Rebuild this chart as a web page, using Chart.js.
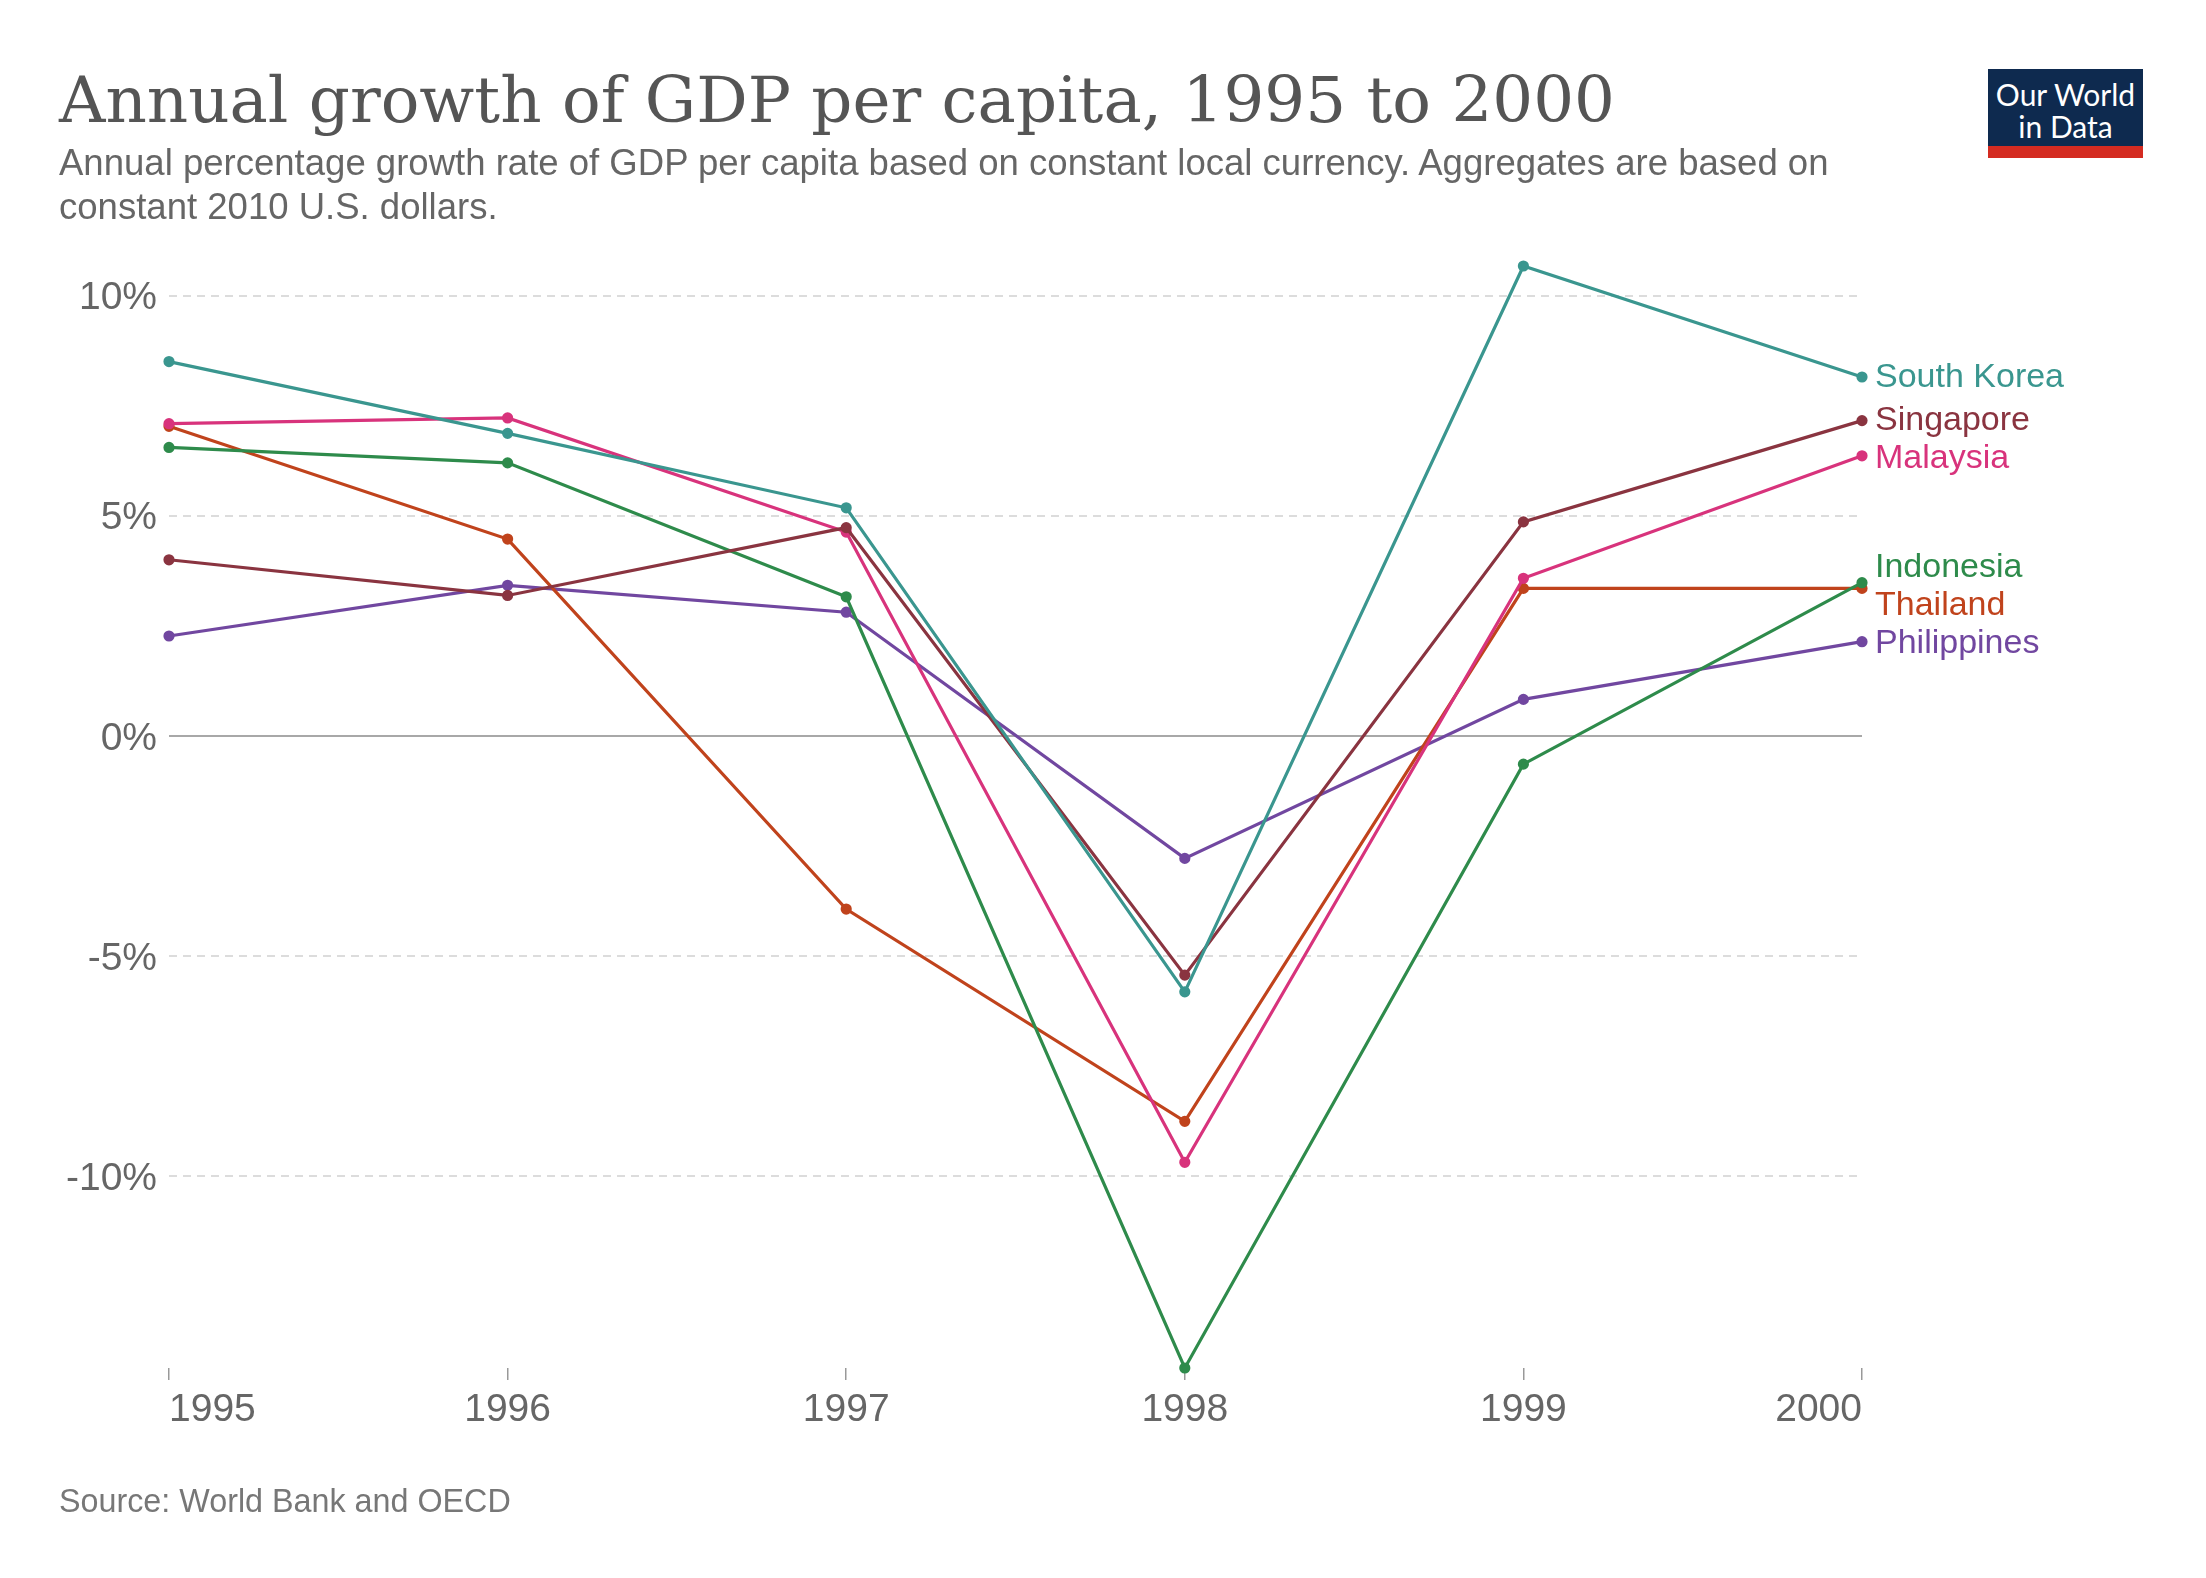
<!DOCTYPE html>
<html>
<head>
<meta charset="utf-8">
<script src="https://cdn.jsdelivr.net/npm/chart.js@4.4.1/dist/chart.umd.min.js"></script>
<style>
  html, body { margin: 0; padding: 0; background: #fff; }
  body { width: 2206px; height: 1578px; position: relative; overflow: hidden; }
  #c { position: absolute; left: 0; top: 0; }
  .t { position: absolute; white-space: nowrap; line-height: 1; }
  #title { font-family: "DejaVu Serif", serif; color: #555; }
  #subtitle { font-family: "Liberation Sans", Arial, sans-serif; color: #666; }
  #source { font-family: "Liberation Sans", Arial, sans-serif; color: #777; }
  #logo { position: absolute; left: 1988px; top: 69px; width: 155px; height: 89px; background: #0e2a4f; }
  #logo .bar { position: absolute; left: 0; bottom: 0; width: 100%; height: 12px; background: #d42b21; }
  #logo .l { position: absolute; left: 0; width: 100%; text-align: center; color: #fff;
             font-family: Lato, "Open Sans", sans-serif; font-size: 30px; line-height: 1; }
</style>
</head>
<body>
<canvas id="c" width="2206" height="1578"></canvas>
<div id="title" class="t">Annual growth of GDP per capita, 1995 to 2000</div>
<div id="subtitle" class="t"><span id="sub1">Annual percentage growth rate of GDP per capita based on constant local currency. Aggregates are based on</span><br><span id="sub2">constant 2010 U.S. dollars.</span></div>
<div id="source" class="t">Source: World Bank and OECD</div>
<div id="logo"><div class="l" style="top:10px">Our World</div><div class="l" style="top:42px">in Data</div><div class="bar"></div></div>
<script>
// ---- data ----
const years = ['1995', '1996', '1997', '1998', '1999', '2000'];
const countries = ['South Korea', 'Singapore', 'Malaysia', 'Indonesia', 'Thailand', 'Philippines'];
const southKorea  = [8.50, 6.87, 5.18, -5.81, 10.67, 8.15];
const singapore   = [4.00, 3.19, 4.73, -5.43, 4.86, 7.16];
const malaysia    = [7.09, 7.22, 4.63, -9.68, 3.58, 6.36];
const indonesia   = [6.55, 6.20, 3.16, -14.35, -0.64, 3.48];
const thailand    = [7.03, 4.47, -3.93, -8.75, 3.35, 3.35];
const philippines = [2.27, 3.42, 2.81, -2.78, 0.83, 2.14];
const yTicks = [-10, -5, 0, 5, 10];
const colors = ['#3a968f', '#8a3440', '#d8337c', '#2e8b4b', '#c0431c', '#7147a0'];
const series = [southKorea, singapore, malaysia, indonesia, thailand, philippines];

// ---- fit header text ----
function fitFont(el, family, targetW, text) {
  const ctx = document.createElement('canvas').getContext('2d');
  ctx.font = '100px ' + family;
  const w = ctx.measureText(text).width;
  return 100 * targetW / w;
}
function place(el, size, left, baseline) {
  el.style.fontSize = size + 'px';
  el.style.left = left + 'px';
  el.style.top = (baseline - 0.846 * size) + 'px';
}
const titleEl = document.getElementById('title');
const ts = fitFont(titleEl, '"DejaVu Serif"', 1556, titleEl.textContent);
place(titleEl, ts, 59, 122);
const subEl = document.getElementById('subtitle');
const ss = fitFont(subEl, '"Liberation Sans"', 1773, document.getElementById('sub1').textContent);
place(subEl, ss, 59, 176);
subEl.style.lineHeight = '44px';
subEl.style.top = (176 - 22 - 0.3465 * ss) + 'px';
const srcEl = document.getElementById('source');
const srs = fitFont(srcEl, '"Liberation Sans"', 452, srcEl.textContent);
place(srcEl, srs, 59, 1512);

// ---- chart ----
const allVals = series.flat();
const yMin = Math.min(...allVals);
const yMax = Math.max(...allVals);

const endLabels = {
  id: 'endLabels',
  afterDatasetsDraw(chart) {
    const ctx = chart.ctx;
    const items = chart.data.datasets.map((ds, i) => {
      const meta = chart.getDatasetMeta(i);
      const pt = meta.data[meta.data.length - 1];
      return { y: pt.y, text: ds.label, color: ds.borderColor };
    }).sort((a, b) => a.y - b.y);
    const gap = 38;
    for (let it = 0; it < 50; it++) {
      let moved = false;
      for (let i = 0; i < items.length - 1; i++) {
        const a = items[i], b = items[i + 1];
        const d = b.y - a.y;
        if (d < gap) {
          const push = (gap - d) / 2;
          a.y -= push; b.y += push; moved = true;
        }
      }
      if (!moved) break;
    }
    ctx.save();
    ctx.font = '34px "Liberation Sans", Arial, sans-serif';
    ctx.textBaseline = 'middle';
    ctx.textAlign = 'left';
    items.forEach(it => { ctx.fillStyle = it.color; ctx.fillText(it.text, chart.chartArea.right + 13, it.y + 1); });
    ctx.restore();
  }
};

const zeroLine = {
  id: 'zeroLine',
  beforeDatasetsDraw(chart) {
    const y = chart.scales.y.getPixelForValue(0);
    const ctx = chart.ctx;
    ctx.save();
    ctx.strokeStyle = '#a8a8a8';
    ctx.lineWidth = 2;
    ctx.beginPath();
    ctx.moveTo(chart.chartArea.left, y);
    ctx.lineTo(chart.chartArea.right, y);
    ctx.stroke();
    ctx.restore();
  }
};

new Chart(document.getElementById('c'), {
  type: 'line',
  data: {
    labels: years,
    datasets: series.map((s, i) => ({
      label: countries[i],
      data: s,
      borderColor: colors[i],
      backgroundColor: colors[i],
      borderWidth: 3.2,
      pointRadius: 4,
      pointHoverRadius: 4,
      tension: 0,
      fill: false,
      clip: false
    }))
  },
  options: {
    responsive: false,
    animation: false,
    devicePixelRatio: 1,
    layout: { padding: { left: 0, top: 266, right: 344, bottom: 140 } },
    plugins: { legend: { display: false }, tooltip: { enabled: false } },
    events: [],
    scales: {
      x: {
        type: 'category',
        offset: false,
        afterFit(scale) { scale.height = 70; },
        grid: { drawOnChartArea: false, drawTicks: true, tickLength: 12, color: '#999', lineWidth: 1.5 },
        border: { display: false },
        ticks: {
          align: 'inner', padding: 7, maxRotation: 0, autoSkip: false,
          color: '#666', font: { family: '"Liberation Sans", Arial, sans-serif', size: 39 }
        }
      },
      y: {
        min: yMin,
        max: yMax,
        afterFit(scale) { scale.width = 169; },
        afterBuildTicks(scale) { scale.ticks = yTicks.map(v => ({ value: v })); },
        grid: {
          drawTicks: false,
          color: (ctx) => (ctx.tick && ctx.tick.value === 0) ? 'rgba(0,0,0,0)' : '#dcdcdc',
          lineWidth: 2
        },
        border: { display: false, dash: [8, 6] },
        ticks: {
          padding: 12,
          labelOffset: 3,
          color: '#666',
          font: { family: '"Liberation Sans", Arial, sans-serif', size: 39 },
          callback: (v) => v + '%'
        }
      }
    }
  },
  plugins: [zeroLine, endLabels]
});
</script>
</body>
</html>
